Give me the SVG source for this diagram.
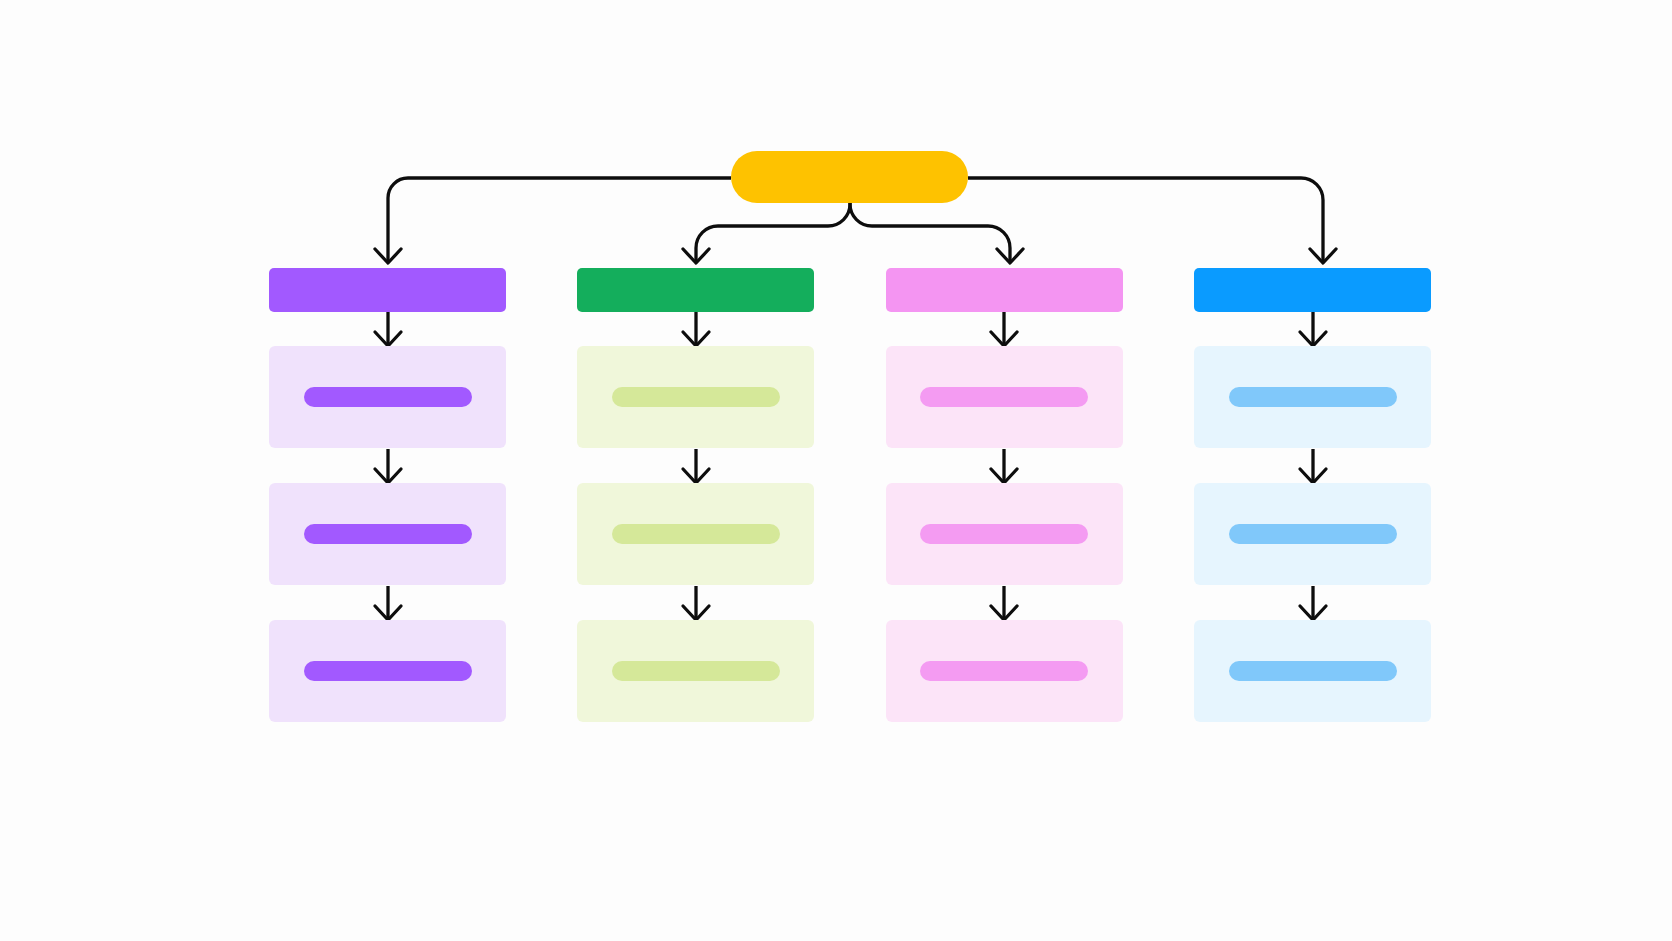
<svg xmlns="http://www.w3.org/2000/svg" width="1672" height="941" viewBox="0 0 1672 941">
<style>
.ln{fill:none;stroke:#0d0d0d;stroke-width:3.3;stroke-linejoin:round;marker-end:url(#ah)}
.hd{rx:5}
.bx{rx:6}
.bar{rx:10}
</style>
<defs>
<marker id="ah" markerUnits="userSpaceOnUse" viewBox="-18 -16 22 32" markerWidth="22" markerHeight="32" refX="0" refY="0" orient="auto" overflow="visible">
<path d="M-14,-13 L0,0 L-14,13" fill="none" stroke="#0d0d0d" stroke-width="3.3" stroke-linecap="round" stroke-linejoin="round"/>
</marker>
</defs>
<rect width="1672" height="941" fill="#fdfdfd"/>
<g id="connectors">
<path class="ln" d="M731,178 H408 A20,20 0 0 0 388,198 V263"/>
<path class="ln" d="M968,178 H1301 A22,22 0 0 1 1323,200 V263"/>
<path class="ln" d="M850,202 V204 A22,22 0 0 1 828,226 H718 A22,22 0 0 0 696,248 V263"/>
<path class="ln" d="M850,202 V204 A22,22 0 0 0 872,226 H988 A22,22 0 0 1 1010,248 V263"/>
<path class="ln" d="M388,312 V346"/>
<path class="ln" d="M388,449 V483"/>
<path class="ln" d="M388,586 V620"/>
<path class="ln" d="M696,312 V346"/>
<path class="ln" d="M696,449 V483"/>
<path class="ln" d="M696,586 V620"/>
<path class="ln" d="M1004,312 V346"/>
<path class="ln" d="M1004,449 V483"/>
<path class="ln" d="M1004,586 V620"/>
<path class="ln" d="M1313,312 V346"/>
<path class="ln" d="M1313,449 V483"/>
<path class="ln" d="M1313,586 V620"/>
</g>
<g id="root"><rect x="731" y="151" width="237" height="52" rx="26" fill="#fec200"/></g>
<g id="purple-head"><rect class="hd" x="269" y="268" width="237" height="44" fill="#a259ff"/></g>
<g id="green-head"><rect class="hd" x="577" y="268" width="237" height="44" fill="#14ae5c"/></g>
<g id="pink-head"><rect class="hd" x="886" y="268" width="237" height="44" fill="#f495f2"/></g>
<g id="blue-head"><rect class="hd" x="1194" y="268" width="237" height="44" fill="#0a9bff"/></g>
<g id="purple-1"><rect class="bx" x="269" y="346" width="237" height="102" fill="#f0e2fc"/><rect class="bar" x="304" y="387" width="168" height="20" fill="#a259ff"/></g>
<g id="purple-2"><rect class="bx" x="269" y="483" width="237" height="102" fill="#f0e2fc"/><rect class="bar" x="304" y="524" width="168" height="20" fill="#a259ff"/></g>
<g id="purple-3"><rect class="bx" x="269" y="620" width="237" height="102" fill="#f0e2fc"/><rect class="bar" x="304" y="661" width="168" height="20" fill="#a259ff"/></g>
<g id="green-1"><rect class="bx" x="577" y="346" width="237" height="102" fill="#f0f7da"/><rect class="bar" x="612" y="387" width="168" height="20" fill="#d5e899"/></g>
<g id="green-2"><rect class="bx" x="577" y="483" width="237" height="102" fill="#f0f7da"/><rect class="bar" x="612" y="524" width="168" height="20" fill="#d5e899"/></g>
<g id="green-3"><rect class="bx" x="577" y="620" width="237" height="102" fill="#f0f7da"/><rect class="bar" x="612" y="661" width="168" height="20" fill="#d5e899"/></g>
<g id="pink-1"><rect class="bx" x="886" y="346" width="237" height="102" fill="#fce4f8"/><rect class="bar" x="920" y="387" width="168" height="20" fill="#f49bf2"/></g>
<g id="pink-2"><rect class="bx" x="886" y="483" width="237" height="102" fill="#fce4f8"/><rect class="bar" x="920" y="524" width="168" height="20" fill="#f49bf2"/></g>
<g id="pink-3"><rect class="bx" x="886" y="620" width="237" height="102" fill="#fce4f8"/><rect class="bar" x="920" y="661" width="168" height="20" fill="#f49bf2"/></g>
<g id="blue-1"><rect class="bx" x="1194" y="346" width="237" height="102" fill="#e6f5fe"/><rect class="bar" x="1229" y="387" width="168" height="20" fill="#80c8fa"/></g>
<g id="blue-2"><rect class="bx" x="1194" y="483" width="237" height="102" fill="#e6f5fe"/><rect class="bar" x="1229" y="524" width="168" height="20" fill="#80c8fa"/></g>
<g id="blue-3"><rect class="bx" x="1194" y="620" width="237" height="102" fill="#e6f5fe"/><rect class="bar" x="1229" y="661" width="168" height="20" fill="#80c8fa"/></g>
</svg>
